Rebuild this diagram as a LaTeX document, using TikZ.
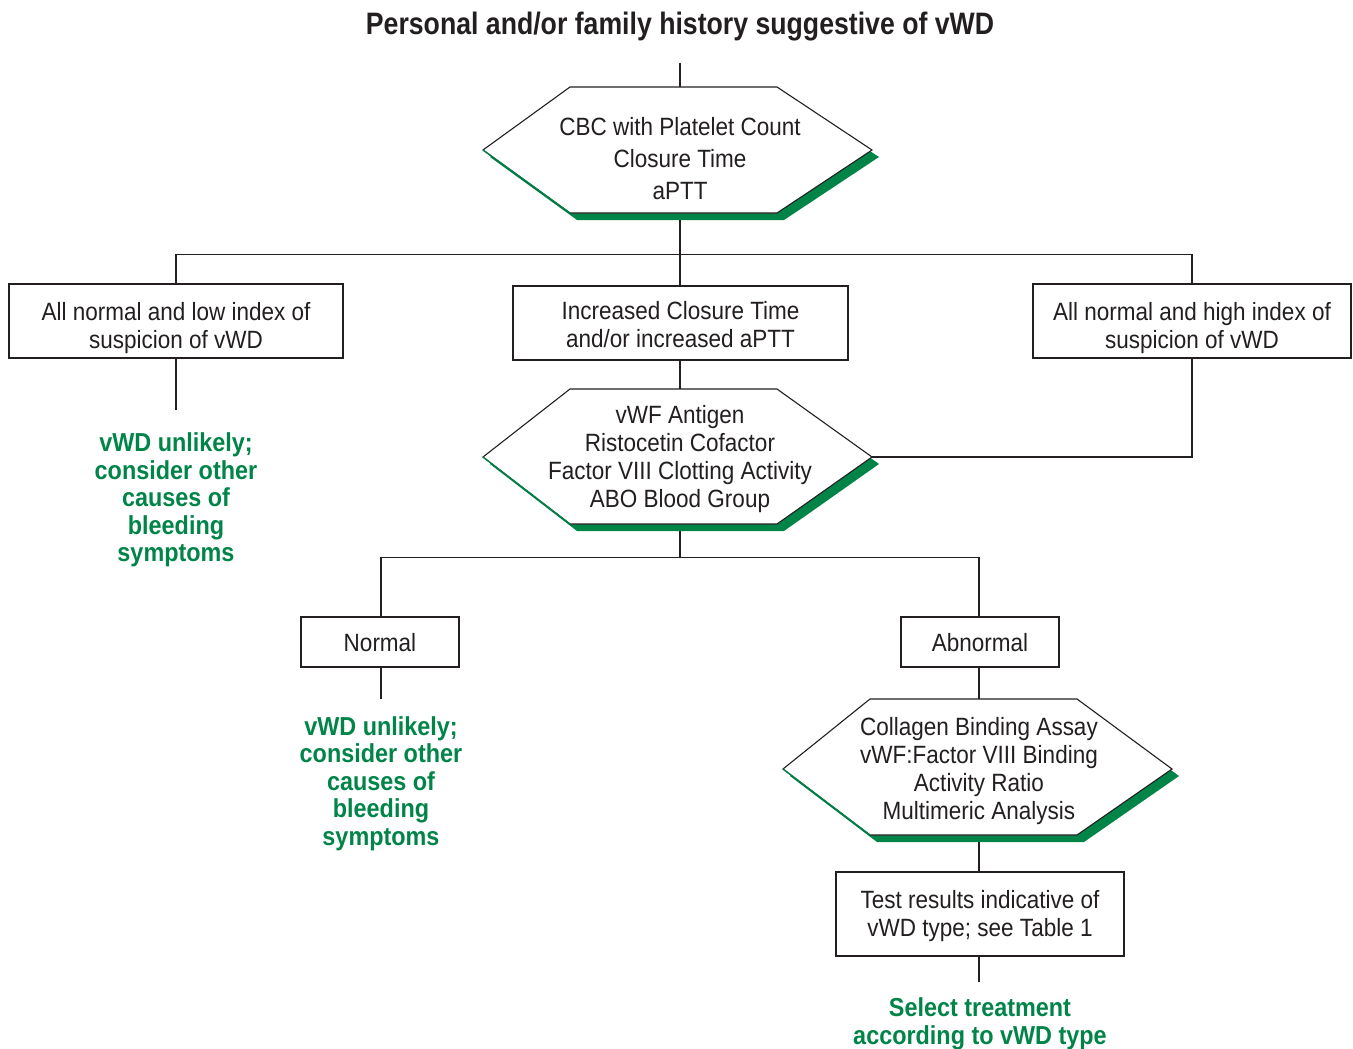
\documentclass[tikz,border=0pt]{standalone}
\usepackage{fontspec}
\setmainfont[FakeStretch=0.9]{Liberation Sans}
\newfontfamily\greenf[FakeStretch=0.9]{Liberation Sans}
\newfontfamily\titlef[FakeStretch=0.86]{Liberation Sans}
\definecolor{vgreen}{RGB}{0,132,71}
\definecolor{ink}{RGB}{35,31,32}
\pgfdeclarelayer{bg}
\pgfsetlayers{bg,main}
% multi-line centred text
\newcommand\ml[1]{\begin{tabular}{@{}c@{}}#1\end{tabular}}
% text lowered by #1 pt inside a box, keeping the box size
\newcommand\lowml[2]{\raisebox{-#1pt}[\height][\depth]{\ml{#2}}}
% #1 name, #2 x left point, #3 x inner left, #4 x inner right, #5 x right point,
% #6 y top, #7 y mid, #8 y bottom, #9 connector x
\newcommand\hexa[9]{%
  \fill[vgreen, shift={(7,7)}] (#2,#7) -- (#3,#6) -- (#4,#6) -- (#5,#7) -- (#4,#8) -- (#3,#8) -- cycle;
  \filldraw[fill=white, draw=ink, line width=1.1pt, line join=miter] (#2,#7) -- (#3,#6) -- (#4,#6) -- (#5,#7) -- (#4,#8) -- (#3,#8) -- cycle;
  \draw[vgreen, line width=1.3pt] (#2,#7) -- (#3,#8);
  \coordinate (#1-t) at (#9,#6);
  \coordinate (#1-b) at (#9,#8);
  \coordinate (#1-r) at (#5,#7);
}
\begin{document}
\begin{tikzpicture}[x=1pt,y=-1pt,
  box/.style={draw=ink, line width=1.1pt, fill=white, inner sep=0pt,
    text=ink, font=\fontsize{25}{28}\selectfont},
  hextext/.style={inner sep=0pt, text=ink, font=\fontsize{25}{28}\selectfont},
  gtext/.style={inner sep=0pt, text=vgreen, font=\greenf\bfseries\fontsize{26}{27.5}\selectfont},
  conn/.style={draw=ink, line width=1.1pt}]
\useasboundingbox (0,0) rectangle (1353,1049);

\node[inner sep=0pt, anchor=base, text=ink, font=\titlef\bfseries\fontsize{31}{34}\selectfont] (title) at (680,35)
  {Personal and/or family history suggestive of vWD};

\hexa{h1}{483}{570}{777}{872}{87}{150}{213}{680}
\node[hextext, font=\fontsize{25}{32}\selectfont] (h1txt) at (680,160.6) {\ml{CBC with Platelet Count\\Closure Time\\aPTT}};

\node[box, minimum width=334, minimum height=74] (l) at (176,321) {\lowml{7.4}{All normal and low index of\\suspicion of vWD}};
\node[box, minimum width=335, minimum height=74] (m) at (680.5,323) {\lowml{4.9}{Increased Closure Time\\and/or increased aPTT}};
\node[box, minimum width=318, minimum height=74] (r) at (1192,321) {\lowml{7.4}{All normal and high index of\\suspicion of vWD}};

\node[gtext] (lg) at (176,501.2) {\ml{vWD unlikely;\\consider other\\causes of\\bleeding\\symptoms}};

\hexa{h2}{483}{570}{777}{872}{389}{457}{524}{680}
\node[hextext] (h2txt) at (680,459.7) {\ml{vWF Antigen\\Ristocetin Cofactor\\Factor VIII Clotting Activity\\ABO Blood Group}};

\node[box, minimum width=158, minimum height=50] (n) at (380,642) {\lowml{4.1}{Normal}};
\node[box, minimum width=158, minimum height=50] (a) at (980,642) {\lowml{4.1}{Abnormal}};

\node[gtext] (ng) at (381,784.5) {\ml{vWD unlikely;\\consider other\\causes of\\bleeding\\symptoms}};

\hexa{h3}{783}{870}{1077}{1172}{699}{769}{835}{979}
\node[hextext] (h3txt) at (979,771.4) {\ml{Collagen Binding Assay\\vWF:Factor VIII Binding\\Activity Ratio\\Multimeric Analysis}};

\node[box, minimum width=288, minimum height=84] (tr) at (980,914) {\lowml{2.7}{Test results indicative of\\vWD type; see Table 1}};

\node[gtext] (tg) at (980,1025) {\ml{Select treatment\\according to vWD type}};

\coordinate (t0) at (680,63);
\coordinate (lend) at (176,410);
\coordinate (j2) at (680,558);
\coordinate (nend) at (381,699);
\coordinate (tend) at (979,982);

\begin{pgfonlayer}{bg}
\draw[conn] (t0) -- (h1-t);
\draw[conn] (h1-b) -- (m.north -| h1-b);
\draw[conn] (l.north) -- ++(0,-29) -| (r.north);
\draw[conn] (l.south) -- (lend);
\draw[conn] (m.south -| h2-t) -- (h2-t);
\draw[conn] (r.south) |- (h2-r);
\draw[conn] (h2-b) -- (j2);
\draw[conn] (n.north -| nend) -- ++(0,-59) -| (a.north -| h3-t);
\draw[conn] (n.south -| nend) -- (nend);
\draw[conn] (a.south -| h3-t) -- (h3-t);
\draw[conn] (h3-b) -- (tr.north -| h3-b);
\draw[conn] (tr.south -| tend) -- (tend);
\end{pgfonlayer}
\end{tikzpicture}
\end{document}
